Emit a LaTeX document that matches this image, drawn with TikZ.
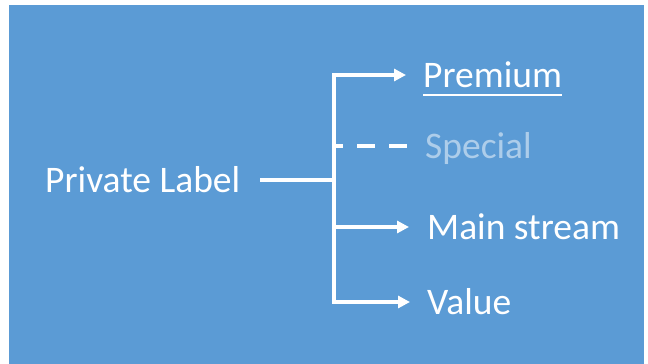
\documentclass[tikz,border=0pt]{standalone}
\usepackage{fontspec}
\setmainfont{Carlito}
\usetikzlibrary{arrows.meta,calc}
\definecolor{bgblue}{HTML}{5B9BD5}
\begin{document}
\begin{tikzpicture}[x=1pt,y=-1pt,>={Triangle[length=12pt,width=12pt]},line join=miter,font=\fontsize{37.5}{42}\selectfont,
	lbl/.style={anchor=west,inner sep=0pt,text=white,text height=24pt,text depth=0pt},
	link/.style={white,line width=3.5pt}]
	\useasboundingbox[fill=white] (0,0) rectangle (648,364);
	\fill[bgblue] (9,5) rectangle (644,366);
	% labels
	\node[lbl] (pl) at (45,180) {Private Label};
	\node[lbl] (prem) at (423,75) {Premium};
	\node[lbl,text=white!50!bgblue] (spec) at (425,146) {Special};
	\node[lbl] (main) at (427,227) {Main stream};
	\node[lbl] (value) at (427,302) {Value};
	\coordinate (j) at (334,180);
	\draw[white,line width=2pt] ([yshift=-8pt]prem.south west)--([yshift=-8pt]prem.south east);
	% tree
	\draw[link] ([xshift=20pt]pl.east)--(j);
	\foreach \n in {prem,value}{\draw[link,->] (j) |- ([xshift=-17pt]\n.west);}
	\draw[link,->] (j |- main.west)--([xshift=-18pt]main.west);
	\draw[link,dash pattern=on 18pt off 14pt,dash phase=9pt] (j |- spec.west)--([xshift=-17pt]spec.west);
\end{tikzpicture}
\end{document}
